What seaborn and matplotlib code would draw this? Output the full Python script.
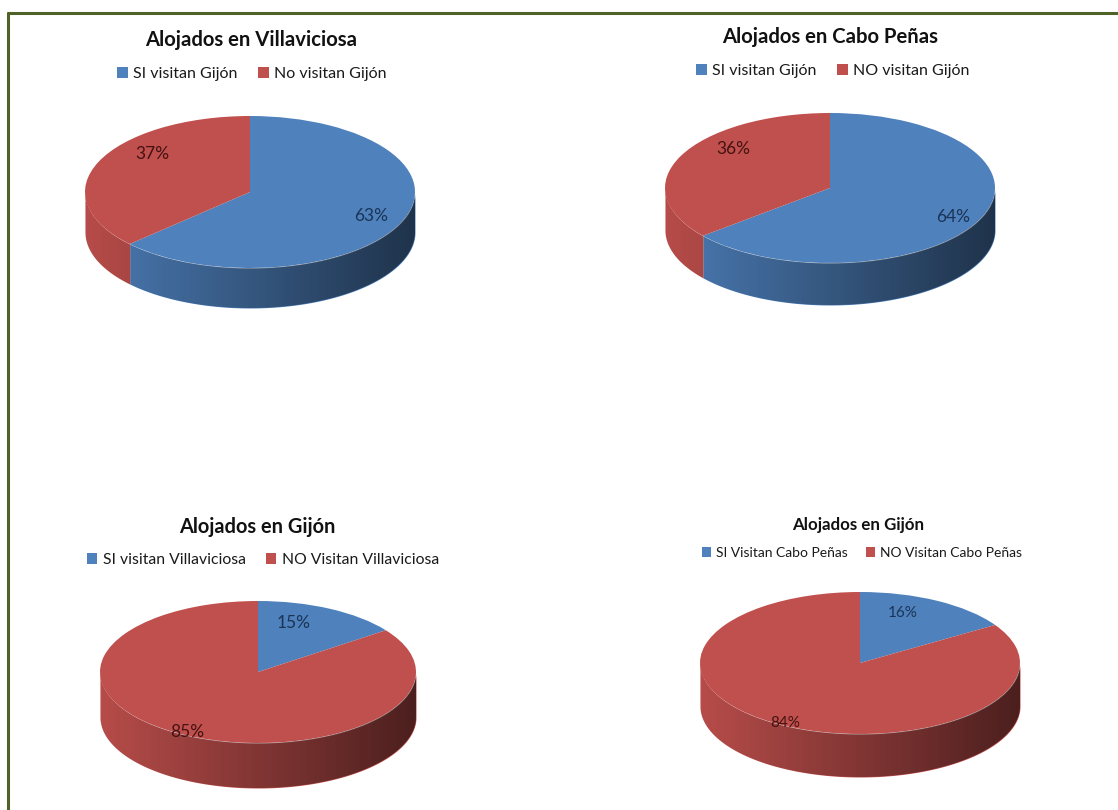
import numpy as np
import matplotlib
matplotlib.use("Agg")
import matplotlib.pyplot as plt
import seaborn as sns
from matplotlib.patches import Patch, Polygon
from matplotlib.lines import Line2D

# ---------------- data ----------------
titles = ["Alojados en Villaviciosa", "Alojados en Cabo Peñas",
          "Alojados en Gijón", "Alojados en Gijón"]
legend_si = ["SI visitan Gijón", "SI visitan Gijón",
             "SI visitan Villaviciosa", "SI Visitan Cabo Peñas"]
legend_no = ["No visitan Gijón", "NO visitan Gijón",
             "NO Visitan Villaviciosa", "NO Visitan Cabo Peñas"]
si_values = [63, 64, 15, 16]
no_values = [37, 36, 85, 84]

# ---------------- style ----------------
sns.set_theme(style="white")
plt.rcParams['font.family'] = ['Lato', 'DejaVu Sans']

W, H = 1118, 810
fig = plt.figure(figsize=(W / 100, H / 100), dpi=100)
fig.patch.set_facecolor("white")

BLUE = "#4f81bd"
RED = "#c0504d"
TEXT_COLORS = ["#1b3456", "#431212"]

# layout in pixels (top-down)
layouts = [
    dict(cx=250, cy=192, a=165, b=76, d=40, tx=251, ty=40, tfs=14.6, lx=252, ly=74, lfs=11.5,
         pfs=12.5, lab=[(0.80, 0), (0.78, -17)]),
    dict(cx=830, cy=188, a=165, b=75, d=42, tx=830, ty=37, tfs=14.6, lx=833, ly=71, lfs=11.5,
         pfs=12.5, lab=[(0.84, -2), (0.78, -16)]),
    dict(cx=258, cy=672, a=158, b=71, d=45, tx=257, ty=527, tfs=14.4, lx=263, ly=560, lfs=11.3,
         pfs=12.5, lab=[(0.73, 9), (0.95, -1)]),
    dict(cx=860, cy=663, a=160, b=71, d=43, tx=858, ty=525, tfs=12.2, lx=862, ly=553, lfs=10,
         pfs=11, lab=[(0.75, 8), (0.97, 0)]),
]

for i, L in enumerate(layouts):
    vals = [si_values[i], no_values[i]]
    colors = [BLUE, RED]
    a, b, d = L["a"], L["b"], L["d"]
    pad = 0.08
    left = L["cx"] - (1 + pad) * a
    right = L["cx"] + (1 + pad) * a
    top = L["cy"] - (1 + pad) * b
    bottom = L["cy"] + b + d + pad * b
    ax = fig.add_axes([left / W, 1 - bottom / H, (right - left) / W, (bottom - top) / H])

    wedges, _ = ax.pie(vals, colors=colors, startangle=90, counterclock=False,
                       radius=1, wedgeprops=dict(linewidth=0), frame=False)
    for w in wedges:
        w.set_zorder(3)
    ax.set_aspect('auto')
    ax.axis('off')

    # side of the 3D pie: one band per slice on the front rim
    D = d / b
    cum = np.concatenate([[0], np.cumsum(vals) / np.sum(vals)])
    for j in range(len(vals)):
        hi = np.deg2rad(90 - 360 * cum[j])
        lo = np.deg2rad(90 - 360 * cum[j + 1])
        ts = np.linspace(lo, hi, 600)
        tt = np.mod(ts, 2 * np.pi)
        mask = tt >= np.pi
        if not mask.any():
            continue
        idx = np.where(mask)[0]
        segs = np.split(idx, np.where(np.diff(idx) != 1)[0] + 1)
        for s in segs:
            t = np.sort(tt[s])
            xs = np.cos(t)
            ys = np.sin(t)
            ax.fill_between(xs, ys, ys - D, color=colors[j], linewidth=0, zorder=1)

    # shading gradient over the side (darker to the right)
    t_all = np.linspace(np.pi, 2 * np.pi, 400)
    xs = np.cos(t_all)
    ys = np.sin(t_all)
    poly_pts = np.vstack([np.column_stack([xs, ys]),
                          np.column_stack([xs[::-1], (ys - D)[::-1]])])
    clip = Polygon(poly_pts, closed=True, transform=ax.transData, facecolor='none',
                   edgecolor='none')
    ax.add_patch(clip)
    u = np.linspace(0, 1, 256)
    grad = np.zeros((2, 256, 4))
    grad[..., 3] = 0.05 + 0.56 * u
    im = ax.imshow(grad, extent=[-1.0, 1.0, -1 - D - 0.02, 0.02], aspect='auto',
                   interpolation='bilinear', zorder=2, origin='lower')
    im.set_clip_path(clip)
    ax.set_xlim(-(1 + pad), 1 + pad)
    ax.set_ylim(-(1 + d / b + pad), 1 + pad)

    # percentage labels
    start = 90.0
    for j, v in enumerate(vals):
        span = 360.0 * v / np.sum(vals)
        mid = start - span / 2
        start -= span
        r, dth = L["lab"][j]
        ang = np.deg2rad(mid + dth)
        ax.text(r * np.cos(ang), r * np.sin(ang), f"{v}%", ha='center', va='center',
                fontsize=L["pfs"], color=TEXT_COLORS[j], zorder=4)

    # title and legend
    fig.text(L["tx"] / W, 1 - L["ty"] / H, titles[i], ha='center', va='center',
             fontsize=L["tfs"], fontweight='bold', color="#111111")
    handles = [Patch(facecolor=BLUE, edgecolor='none'), Patch(facecolor=RED, edgecolor='none')]
    fig.legend(handles, [legend_si[i], legend_no[i]], loc='center',
               bbox_to_anchor=(L["lx"] / W, 1 - L["ly"] / H), ncol=2, frameon=False,
               fontsize=L["lfs"], handlelength=0.65, handleheight=0.65, handletextpad=0.35,
               columnspacing=1.3, borderaxespad=0, labelcolor="#1a1a1a")

# frame lines (olive green)
fig.add_artist(Line2D([7 / W, 1.0], [1 - 13 / H, 1 - 13 / H], transform=fig.transFigure,
                      color="#4f6228", linewidth=2.2, solid_capstyle='butt'))
fig.add_artist(Line2D([8 / W, 8 / W], [1 - 12 / H, 0.0], transform=fig.transFigure,
                      color="#4f6228", linewidth=2.2, solid_capstyle='butt'))

fig.savefig("out.png", dpi=100, facecolor="white")
